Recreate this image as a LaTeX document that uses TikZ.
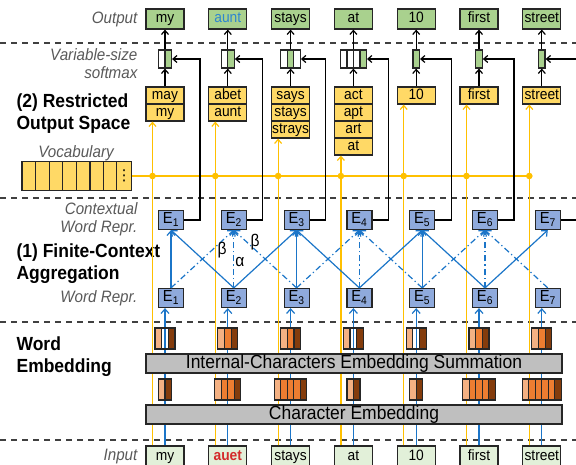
\documentclass[tikz,border=0pt]{standalone}
\usepackage{fontspec}
\setmainfont{Liberation Sans}[FakeStretch=0.92]
\newfontfamily\dotsfont{DejaVu Sans}
\usetikzlibrary{arrows.meta}

\definecolor{lineblue}{HTML}{1B75C8}
\definecolor{lineyellow}{HTML}{FFC000}
\definecolor{fillgreen}{HTML}{A9D18E}
\definecolor{fillyellow}{HTML}{FFD966}
\definecolor{fillblue}{HTML}{8FAADC}
\definecolor{fillinput}{HTML}{E2F0D9}
\definecolor{fillbar}{HTML}{BFBFBF}
\definecolor{emblight}{HTML}{F4B183}
\definecolor{embmid}{HTML}{ED7D31}
\definecolor{embdark}{HTML}{843C0C}
\definecolor{labelgray}{HTML}{595959}
\definecolor{wordred}{HTML}{D42A2A}
\definecolor{wordblue}{HTML}{2E86D0}
\definecolor{edgegray}{HTML}{262626}
\definecolor{sepgray}{HTML}{404040}

\newcommand{\boxfont}{\fontsize{15}{17}\selectfont}
\newcommand{\sidefont}{\fontsize{16.5}{18}\selectfont\itshape}
\newcommand{\partfont}{\fontsize{19}{22}\selectfont\bfseries}
\newcommand{\barfont}{\fontsize{19}{21}\selectfont}

\tikzset{
	plainbox/.style={draw=edgegray, inner sep=0, text height=10.5, text depth=3, font=\boxfont},
	outbox/.style={plainbox, fill=fillgreen, minimum width=38, minimum height=20},
	inbox/.style={plainbox, fill=fillinput, minimum width=38, minimum height=22},
	candbox/.style={plainbox, fill=fillyellow, minimum width=38, minimum height=17},
	ebox/.style={plainbox, fill=fillblue, minimum width=25, minimum height=19, font=\fontsize{16}{18}\selectfont},
	softcell/.style={draw=edgegray, minimum width=6.5, minimum height=18, inner sep=0},
	vocbox/.style={draw=edgegray, fill=fillyellow, minimum width=13.6, minimum height=29, inner sep=0},
	embcell/.style={draw=edgegray, minimum height=21, inner sep=0},
	barbox/.style={draw=edgegray, fill=fillbar, minimum width=416, minimum height=19, inner sep=0, text height=13.5, text depth=3.5, font=\barfont},
	sidelabel/.style={inner sep=0, text=labelgray, font=\sidefont},
	partlabel/.style={inner sep=0, align=left, anchor=west, font=\partfont},
	greek/.style={inner sep=0, font=\fontsize{17}{17}\selectfont},
	sepline/.style={draw=sepgray, dash pattern=on 6 off 5},
	blackedge/.style={draw=black, -{Straight Barb[length=4pt, width=7pt]}},
	yeledge/.style={draw=lineyellow, -{Straight Barb[length=4pt, width=7pt]}},
	blueedge/.style={draw=lineblue, -{Straight Barb[length=4.5pt, width=8pt]}},
	dashdot/.style={dash pattern=on 6 off 3 on 1.2 off 3}
}

\begin{document}
\begin{tikzpicture}[x=1pt, y=-1pt, line width=1.2pt]
	\pgfmathsetmacro{\colzero}{165}
	\pgfmathsetmacro{\colgap}{62.8}
	
	\useasboundingbox (0, 0) rectangle (576, 465);
	\clip (0, 0) rectangle (576, 465);
	
	% Layer separators
	\foreach \y in {43, 198, 322, 440}{
		\draw [sepline] (0, \y) -- (576, \y);
	}
	
	% Side labels
	\node [sidelabel, anchor=east] (lblout) at (138, 19) {Output};
	\node [sidelabel, anchor=east, align=right] (lblsoft) at (138, 64) {Variable-size\\softmax};
	\node [partlabel] (lblspace) at (16, 114) {(2) Restricted\\Output Space};
	\node [sidelabel] (lblvoc) at (76, 153) {Vocabulary};
	\node [sidelabel, anchor=east, align=right] (lblctx) at (138, 219) {Contextual\\Word Repr.};
	\node [partlabel] (lblagg) at (16, 264) {(1) Finite-Context\\Aggregation};
	\node [sidelabel, anchor=east] (lblwrd) at (138, 298) {Word Repr.};
	\node [partlabel] (lblemb) at (16, 357) {Word\\Embedding};
	\node [sidelabel, anchor=east] (lblin) at (138, 457) {Input};
	
	% Vocabulary
	\foreach \k in {1,...,7}{
		\node [vocbox] (voc\k) at ({15.2 + 13.6*\k}, 176) {};
	}
	\node [vocbox, font=\dotsfont\fontsize{15}{15}\selectfont] (voc8) at ({15.2 + 13.6*8}, 176) {⋮};
	
	% Columns: input / output / softmax cells / gold cell
	\foreach \i/\win/\wout/\ns/\gs in {
		1/my/my/2/2,
		2/{\textcolor{wordred}{\bfseries auet}}/{\textcolor{wordblue}{aunt}}/2/2,
		3/stays/stays/3/2,
		4/at/at/4/4,
		5/10/10/1/1,
		6/first/first/1/1,
		7/street/street/1/1}{
		\pgfmathsetmacro{\cx}{\colzero + (\i - 1)*\colgap}
		
		\node [inbox] (in\i) at (\cx, 457) {\win};
		\node [outbox] (out\i) at (\cx, 19) {\wout};
		\node [ebox] (wrd\i) at ({\cx + 6}, 298) {E\textsubscript{\i}};
		\node [ebox] (ctx\i) at ({\cx + 6}, 220) {E\textsubscript{\i}};
		
		% Variable-size softmax
		\node [minimum width=\ns*6.5, minimum height=18, inner sep=0] (soft\i) at (\cx, 59) {};
		\foreach \c in {1,...,\ns}{
			\ifnum\c=\gs\relax \def\cellfill{fillgreen}\else \def\cellfill{white}\fi
			\node [softcell, fill=\cellfill] (sm\i\c) at ({\cx + (\c - \ns/2 - 0.5)*6.5}, 59) {};
		}
		
		\coordinate (bend\i) at ({\cx + 35}, 59);
		\coordinate (ydot\i) at ({\cx - 12.5}, 176);
	}
	
	% Restricted output candidates
	\foreach \i/\r/\cw in {1/1/may, 1/2/my, 2/1/abet, 2/2/aunt,
	                       3/1/says, 3/2/stays, 3/3/strays,
	                       4/1/act, 4/2/apt, 4/3/art, 4/4/at,
	                       5/1/10, 6/1/first, 7/1/street}{
		\pgfmathsetmacro{\cx}{\colzero + (\i - 1)*\colgap}
		\node [candbox] (cand\i\r) at (\cx, {95.5 + (\r - 1)*17}) {\cw};
	}
	
	% Links between layers
	\draw [draw=lineyellow] (voc8.east) -- (ydot7);
	\foreach \i/\nc in {1/2, 2/2, 3/3, 4/4, 5/1, 6/1, 7/1}{
		\draw [yeledge] (ydot\i |- in\i.north) -- (ydot\i |- cand\i\nc.south);
		\fill [lineyellow] (ydot\i) circle (3.3);
		\draw [blueedge] (in\i.north) -- (in\i.north |- wrd\i.south);
		\draw [blackedge] (cand\i1.north) -- (soft\i.south);
		\draw [blackedge] (soft\i.north) -- (out\i.south);
		\draw [blackedge] (ctx\i.east) -| (bend\i) -- (soft\i.east);
	}
	
	% Finite-context aggregation
	\foreach \i in {1,...,7}{
		\pgfmathtruncatemacro{\prev}{\i - 1}
		\pgfmathtruncatemacro{\next}{\i + 1}
		\ifodd\i
			\ifnum\i<7 \draw [blueedge] (wrd\i.north) -- (ctx\i.south); \fi
			\ifnum\i>1 \draw [blueedge, dashdot] (wrd\i.north) -- (ctx\prev.south); \fi
			\ifnum\i<7 \draw [blueedge, dashdot] (wrd\i.north) -- (ctx\next.south); \fi
		\else
			\draw [blueedge, dashdot] (wrd\i.north) -- (ctx\i.south);
			\draw [blueedge] (wrd\i.north) -- (ctx\prev.south);
			\draw [blueedge] (wrd\i.north) -- (ctx\next.south);
		\fi
	}
	\node [greek] (betaleft) at (222, 250) {β};
	\node [greek] (alpha) at (240, 262) {α};
	\node [greek] (betaright) at (255, 242) {β};
	
	% Character and word embeddings
	\foreach \i/\mc/\nl in {1/none/2, 2/embmid/4, 3/embmid/5, 4/none/2,
	                        5/none/2, 6/embmid/5, 7/embmid/6}{
		\pgfmathsetmacro{\cx}{\colzero + (\i - 1)*\colgap}
		\foreach \c/\cc in {1/emblight, 2/\mc, 3/embdark}{
			\node [embcell, minimum width=6.7, fill=\cc] (up\i\c) at ({\cx + (\c - 2)*6.7}, 338.5) {};
		}
		\foreach \c in {1,...,\nl}{
			\ifnum\c=1 \def\cellfill{emblight}\else
				\ifnum\c=\nl\relax \def\cellfill{embdark}\else \def\cellfill{embmid}\fi
			\fi
			\node [embcell, minimum width=6.5, fill=\cellfill] (low\i\c) at ({\cx + (\c - \nl/2 - 0.5)*6.5}, 389.5) {};
		}
	}
	\node [barbox] (sumbar) at (354, 363.5) {Internal-Characters Embedding Summation};
	\node [barbox] (charbar) at (354, 414.5) {Character Embedding};
	
\end{tikzpicture}
\end{document}
